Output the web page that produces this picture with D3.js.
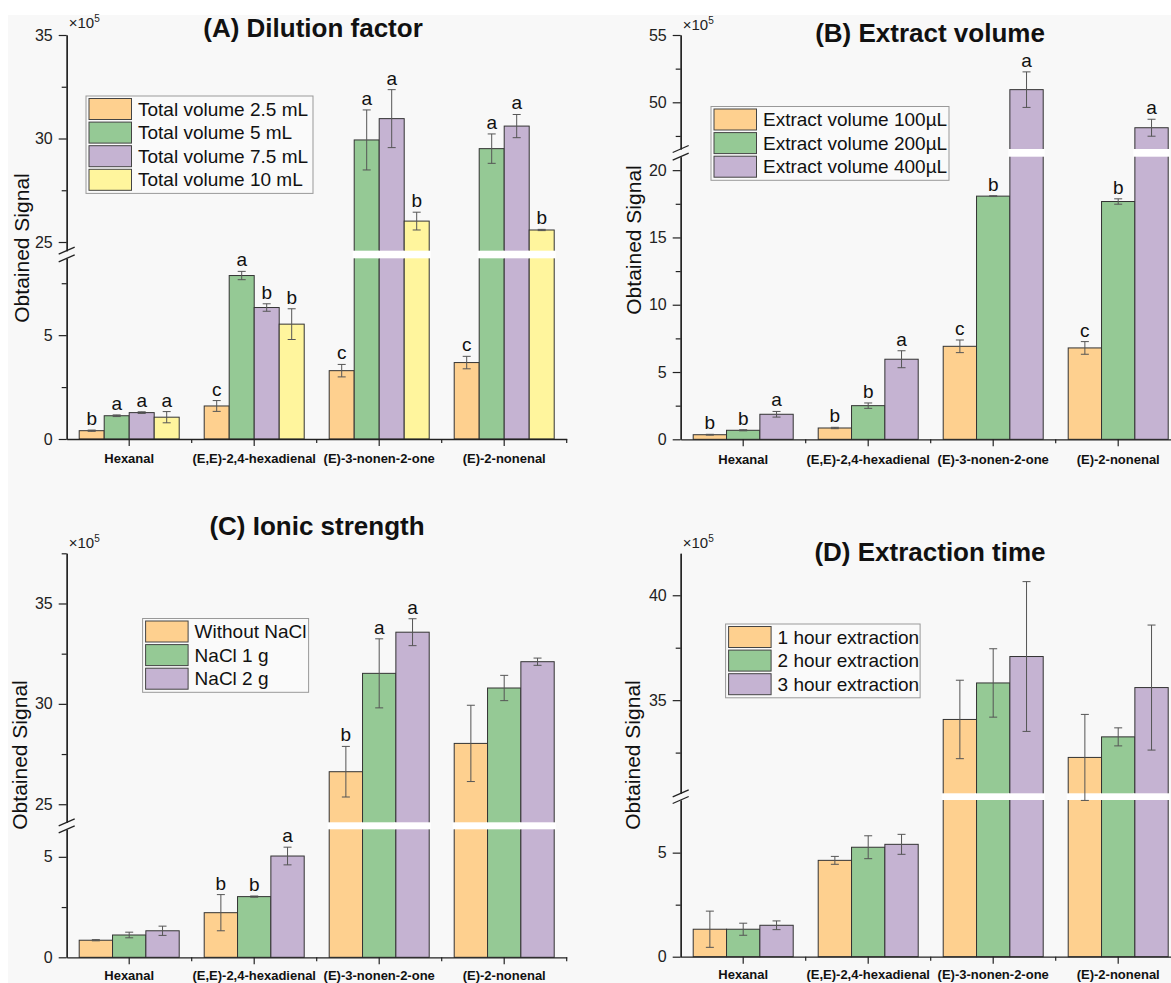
<!DOCTYPE html>
<html>
<head>
<meta charset="utf-8">
<script src="https://cdn.jsdelivr.net/npm/d3@7"></script>
<style>
  body { margin: 0; background: #fff; }
  svg { display: block; font-family: "Liberation Sans", Arial, sans-serif; }
</style>
</head>
<body>
<svg id="chart" width="1171" height="983"></svg>
<script>
// ---- data (signal, x10^5) ----
const compounds = ["Hexanal", "(E,E)-2,4-hexadienal", "(E)-3-nonen-2-one", "(E)-2-nonenal"];
const colors = ["#fed08f", "#95c995", "#c5b3d2", "#fff59d"];

// (A) dilution factor
const dilutionSeries = ["Total volume 2.5 mL", "Total volume 5 mL", "Total volume 7.5 mL", "Total volume 10 mL"];
const dilutionMeans = [
  [0.40, 1.59, 3.29, 3.68],
  [1.12, 7.87, 29.93, 29.51],
  [1.27, 6.33, 30.96, 30.60],
  [1.05, 5.53, 26.01, 25.58]
];
const dilutionErrors = [
  [0.03, 0.26, 0.30, 0.30],
  [0.04, 0.20, 1.45, 0.71],
  [0.04, 0.18, 1.40, 0.56],
  [0.27, 0.74, 0.43, 0.03]
];
const dilutionLetters = [
  ["b", "c", "c", "c"],
  ["a", "a", "a", "a"],
  ["a", "b", "a", "a"],
  ["a", "b", "b", "b"]
];

// (B) extract volume
const extractSeries = ["Extract volume 100\u00b5L", "Extract volume 200\u00b5L", "Extract volume 400\u00b5L"];
const extractMeans = [
  [0.34, 0.84, 6.91, 6.79],
  [0.67, 2.50, 18.07, 17.67],
  [1.86, 5.95, 50.94, 48.11]
];
const extractErrors = [
  [0.03, 0.05, 0.47, 0.47],
  [0.04, 0.20, 0.03, 0.20],
  [0.21, 0.63, 1.32, 0.63]
];
const extractLetters = [
  ["b", "b", "c", "c"],
  ["b", "b", "b", "b"],
  ["a", "a", "a", "a"]
];

// (C) ionic strength
const ionicSeries = ["Without NaCl", "NaCl 1 g", "NaCl 2 g"];
const ionicMeans = [
  [0.85, 2.22, 26.62, 28.03],
  [1.11, 3.02, 31.52, 30.79],
  [1.32, 5.04, 33.57, 32.10]
];
const ionicErrors = [
  [0.03, 0.90, 1.26, 1.90],
  [0.14, 0.03, 1.72, 0.63],
  [0.23, 0.44, 0.67, 0.18]
];
const ionicLetters = [
  ["", "b", "b", ""],
  ["", "b", "a", ""],
  ["", "a", "a", ""]
];

// (D) extraction time
const timeSeries = ["1 hour extraction", "2 hour extraction", "3 hour extraction"];
const timeMeans = [
  [1.32, 4.63, 34.08, 32.27],
  [1.32, 5.26, 35.82, 33.25],
  [1.51, 5.40, 37.08, 35.60]
];
const timeErrors = [
  [0.87, 0.19, 1.87, 2.05],
  [0.29, 0.55, 1.63, 0.43],
  [0.21, 0.48, 3.57, 2.98]
];

// axis segments and ticks (broken y axes)
const dilutionLow = [0, 8.7], dilutionUp = [24.58, 35];
const dilutionTicks = { lowMajor: [0, 5], lowMinor: [2.5, 7.5], upMajor: [25, 30, 35], upMinor: [27.5, 32.5] };
const extractLow = [0, 21], extractUp = [46.53, 55];
const extractTicks = { lowMajor: [0, 5, 10, 15, 20], lowMinor: [2.5, 7.5, 12.5, 17.5], upMajor: [50, 55], upMinor: [47.5, 52.5] };
const ionicLow = [0, 6.37], ionicUp = [24.1, 37.5];
const ionicTicks = { lowMajor: [0, 5], lowMinor: [2.5], upMajor: [25, 30, 35], upMinor: [27.5, 32.5, 37.5] };
const timeLow = [0, 7.53], timeUp = [30.56, 42];
const timeTicks = { lowMajor: [0, 5], lowMinor: [2.5], upMajor: [35, 40], upMinor: [32.5, 37.5] };

const svg = d3.select("#chart");

// faint page background as in the screenshot
svg.append("rect").attr("x", 8).attr("y", 15).attr("width", 1163).attr("height", 968).attr("fill", "#f8f8f8");

function drawPanel(p) {
  const g = svg.append("g");

  const x = d3.scaleBand().domain(compounds).range([p.x0, p.x0 + 500]).paddingInner(0.2).paddingOuter(0.1);
  const xs = d3.scaleBand().domain(p.series).range([0, x.bandwidth()]);
  const yLow = d3.scaleLinear().domain(p.low).range(p.lowRange);
  const yUp = d3.scaleLinear().domain(p.up).range(p.upRange);
  const y = v => v <= p.low[1] ? yLow(v) : yUp(v);
  const base = yLow(0);

  // bars
  p.series.forEach((s, i) => {
    compounds.forEach((c, j) => {
      const m = p.means[i][j], e = p.errors[i][j];
      const bx = x(c) + xs(s), bw = xs.bandwidth(), cx = bx + bw / 2;
      g.append("rect")
        .attr("x", bx).attr("y", y(m))
        .attr("width", bw).attr("height", base - y(m))
        .attr("fill", colors[i]).attr("stroke", "#333").attr("stroke-width", 1);
      if (m > p.low[1]) {
        // white strip where the axis is broken
        g.append("rect")
          .attr("x", bx - 1.5).attr("width", bw + 3)
          .attr("y", yUp(p.up[0])).attr("height", yLow(p.low[1]) - yUp(p.up[0]))
          .attr("fill", "#fff");
      }
      if (e > 0) {
        const y1 = y(m + e), y2 = y(m - e);
        g.append("line").attr("x1", cx).attr("x2", cx).attr("y1", y1).attr("y2", y2)
          .attr("stroke", "#555").attr("stroke-width", 1);
        [y1, y2].forEach(yy => g.append("line")
          .attr("x1", cx - 4).attr("x2", cx + 4).attr("y1", yy).attr("y2", yy)
          .attr("stroke", "#555").attr("stroke-width", 1));
      }
      if (p.letters && p.letters[i][j]) {
        g.append("text")
          .attr("x", cx).attr("y", y(m + e) - 5)
          .attr("text-anchor", "middle")
          .style("font-size", "19px").attr("fill", "#111")
          .text(p.letters[i][j]);
      }
    });
  });

  // y axis segments
  const styleAxis = sel => {
    sel.select(".domain").attr("stroke", "#222").attr("stroke-width", 1.3);
    sel.selectAll(".tick line").attr("stroke", "#222").attr("stroke-width", 1.2);
    sel.selectAll(".tick text").style("font-size", "16px").attr("fill", "#222");
  };
  [[yLow, p.ticks.lowMajor, p.ticks.lowMinor], [yUp, p.ticks.upMajor, p.ticks.upMinor]].forEach(([sc, major, minor]) => {
    g.append("g").attr("transform", `translate(${p.x0},0)`)
      .call(d3.axisLeft(sc).tickValues(minor).tickSize(5).tickSizeOuter(0).tickFormat(""))
      .call(styleAxis);
    g.append("g").attr("transform", `translate(${p.x0},0)`)
      .call(d3.axisLeft(sc).tickValues(major).tickSize(8).tickSizeOuter(0).tickPadding(6).tickFormat(d3.format("d")))
      .call(styleAxis)
      .call(a => a.selectAll(".tick text").style("font-family", "inherit"));
  });

  // break marks
  [yLow(p.low[1]), yUp(p.up[0])].forEach(yy => {
    g.append("line")
      .attr("x1", p.x0 - 8).attr("y1", yy + 3.5)
      .attr("x2", p.x0 + 8).attr("y2", yy - 3.5)
      .attr("stroke", "#222").attr("stroke-width", 1.3);
  });

  // x axis
  g.append("g").attr("transform", `translate(0,${base})`)
    .call(d3.axisBottom(x).tickSize(7).tickSizeOuter(0).tickPadding(p.labelPad))
    .call(styleAxis)
    .call(a => a.selectAll(".tick text").style("font-size", "13px").style("font-weight", "bold").attr("fill", "#111"));
  compounds.forEach(c => {
    const mx = x(c) + x.bandwidth() / 2 + x.step() / 2;
    g.append("line").attr("x1", mx).attr("x2", mx).attr("y1", base).attr("y2", base + 4)
      .attr("stroke", "#222").attr("stroke-width", 1.2);
  });

  // multiplier
  const mult = g.append("text").attr("x", p.x0 + 2).attr("y", p.multY)
    .style("font-size", "15px").attr("fill", "#222");
  mult.append("tspan").text("\u00d710");
  mult.append("tspan").attr("dy", -6).style("font-size", "10px").text("5");

  // titles
  g.append("text").attr("x", p.titleX).attr("y", p.titleY)
    .attr("text-anchor", "middle").style("font-size", "26px").style("font-weight", "bold").attr("fill", "#111")
    .text(p.title);
  g.append("text")
    .attr("transform", `translate(${p.yTitleX},${p.yTitleY}) rotate(-90)`)
    .attr("text-anchor", "middle").attr("dominant-baseline", "central")
    .style("font-size", "21px").attr("fill", "#111")
    .text("Obtained Signal");

  // legend
  const lg = g.append("g");
  const rowH = 23.6;
  lg.append("rect")
    .attr("x", p.legX).attr("y", p.legY)
    .attr("width", p.legW).attr("height", p.series.length * rowH + 3)
    .attr("fill", "#fafafa").attr("stroke", "#999").attr("stroke-width", 1);
  p.series.forEach((s, i) => {
    const ry = p.legY + 2.5 + i * rowH;
    lg.append("rect").attr("x", p.legX + 3).attr("y", ry)
      .attr("width", 42.5).attr("height", 21)
      .attr("fill", colors[i]).attr("stroke", "#444").attr("stroke-width", 1);
    lg.append("text").attr("x", p.legX + 52).attr("y", ry + 10.5)
      .attr("dominant-baseline", "central")
      .style("font-size", "19px").attr("fill", "#111")
      .text(s);
  });
}

drawPanel({
  title: "(A) Dilution factor", titleX: 313, titleY: 37,
  series: dilutionSeries, means: dilutionMeans, errors: dilutionErrors, letters: dilutionLetters,
  x0: 66.7, low: dilutionLow, lowRange: [439, 258.3], up: dilutionUp, upRange: [250.7, 35],
  ticks: dilutionTicks, multY: 28, yTitleX: 21, yTitleY: 248, labelPad: 8,
  legX: 86, legY: 96, legW: 227
});
drawPanel({
  title: "(B) Extract volume", titleX: 930, titleY: 42,
  series: extractSeries, means: extractMeans, errors: extractErrors, letters: extractLetters,
  x0: 680.7, low: extractLow, lowRange: [439.3, 156.7], up: extractUp, upRange: [149, 35],
  ticks: extractTicks, multY: 30, yTitleX: 633, yTitleY: 240, labelPad: 8,
  legX: 711, legY: 106.5, legW: 238
});
drawPanel({
  title: "(C) Ionic strength", titleX: 317, titleY: 535,
  series: ionicSeries, means: ionicMeans, errors: ionicErrors, letters: ionicLetters,
  x0: 66.7, low: ionicLow, lowRange: [957.3, 829.3], up: ionicUp, upRange: [822.3, 553.3],
  ticks: ionicTicks, multY: 548, yTitleX: 19, yTitleY: 755, labelPad: 6,
  legX: 142.6, legY: 618.5, legW: 166
});
drawPanel({
  title: "(D) Extraction time", titleX: 930, titleY: 561,
  series: timeSeries, means: timeMeans, errors: timeErrors, letters: null,
  x0: 680.7, low: timeLow, lowRange: [956.7, 800], up: timeUp, upRange: [793.3, 553.3],
  ticks: timeTicks, multY: 548, yTitleX: 632, yTitleY: 755, labelPad: 6,
  legX: 725.6, legY: 624, legW: 194.5
});
</script>
</body>
</html>
